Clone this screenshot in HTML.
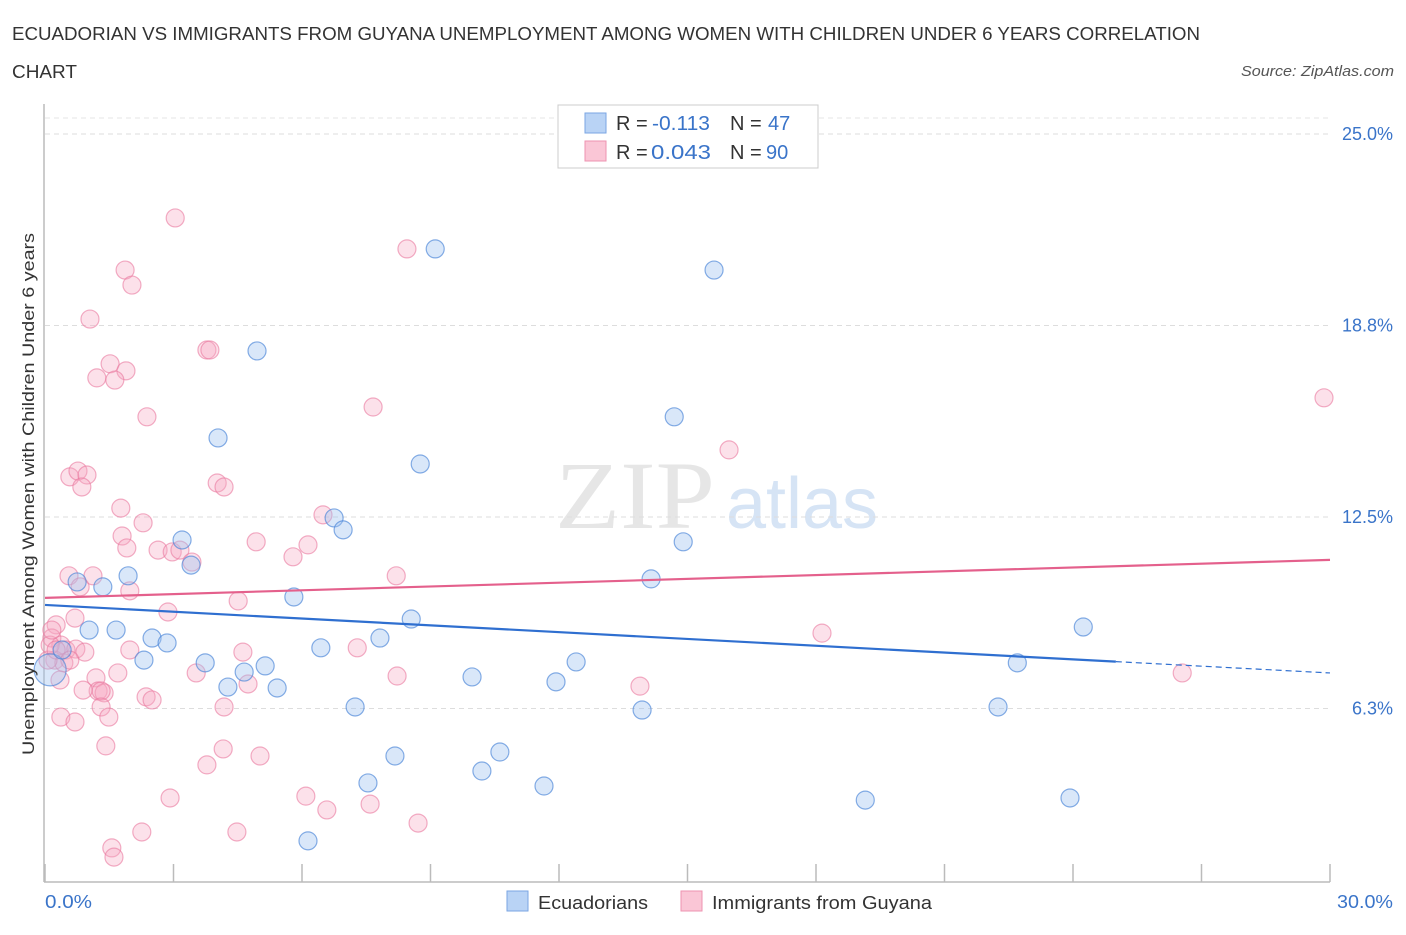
<!DOCTYPE html>
<html><head><meta charset="utf-8"><style>
body{margin:0;background:#fff;font-family:"Liberation Sans",sans-serif}
</style></head><body>
<svg width="1406" height="930" xmlns="http://www.w3.org/2000/svg">
<text x="12" y="40" font-size="18" fill="#333" textLength="1188" lengthAdjust="spacingAndGlyphs">ECUADORIAN VS IMMIGRANTS FROM GUYANA UNEMPLOYMENT AMONG WOMEN WITH CHILDREN UNDER 6 YEARS CORRELATION</text>
<text x="12" y="78" font-size="18" fill="#333" textLength="65" lengthAdjust="spacingAndGlyphs">CHART</text>
<text x="1394" y="76" font-size="15" fill="#555" font-style="italic" text-anchor="end" textLength="153" lengthAdjust="spacingAndGlyphs">Source: ZipAtlas.com</text>
<text x="555" y="528" font-size="96" fill="#e6e6e6" font-family="Liberation Serif" textLength="160" lengthAdjust="spacingAndGlyphs">ZIP</text>
<text x="802" y="528" font-size="72" fill="#d6e4f5" text-anchor="middle">atlas</text>
<g id="grid"></g>
<line x1="44" y1="104" x2="44" y2="882" stroke="#bbb" stroke-width="1.5"/>
<line x1="44" y1="882" x2="1330" y2="882" stroke="#bbb" stroke-width="1.5"/>
<g id="xticks"></g>
<g id="pink"></g><g id="blue"></g><g id="trends"></g>
<text transform="translate(34,755) rotate(-90)" font-size="17" fill="#333" textLength="522" lengthAdjust="spacingAndGlyphs">Unemployment Among Women with Children Under 6 years</text>
<text x="45" y="908" font-size="18" fill="#3a74c9" textLength="47" lengthAdjust="spacingAndGlyphs">0.0%</text>
<text x="1393" y="908" font-size="18" fill="#3a74c9" text-anchor="end" textLength="56" lengthAdjust="spacingAndGlyphs">30.0%</text>
<g>
<rect x="558" y="105" width="260" height="63" fill="#fff" stroke="#ccc"/>
<rect x="585" y="113" width="21" height="20" fill="#b9d3f5" stroke="#7aa6e3"/>
<rect x="585" y="141" width="21" height="20" fill="#fac6d6" stroke="#ee93b0"/>
<text x="616" y="130" font-size="20" fill="#333">R = </text><text x="652" y="130" font-size="20" fill="#3a74c9" textLength="58" lengthAdjust="spacingAndGlyphs">-0.113</text>
<text x="730" y="130" font-size="20" fill="#333">N = </text><text x="768" y="130" font-size="20" fill="#3a74c9">47</text>
<text x="616" y="159" font-size="20" fill="#333">R = </text><text x="651" y="159" font-size="20" fill="#3a74c9" textLength="60" lengthAdjust="spacingAndGlyphs">0.043</text>
<text x="730" y="159" font-size="20" fill="#333">N = </text><text x="766" y="159" font-size="20" fill="#3a74c9">90</text>
</g>
<g><rect x="507" y="891" width="21" height="20" fill="#b9d3f5" stroke="#7aa6e3"/><text x="538" y="909" font-size="18" fill="#333" textLength="110" lengthAdjust="spacingAndGlyphs">Ecuadorians</text></g>
<g><rect x="681" y="891" width="21" height="20" fill="#fac6d6" stroke="#ee93b0"/><text x="712" y="909" font-size="18" fill="#333" textLength="220" lengthAdjust="spacingAndGlyphs">Immigrants from Guyana</text></g>
</svg>
<script>
const yTicks=[6.25,12.5,18.75,25];
const yTickLabels=["6.3%","12.5%","18.8%","25.0%"];
const xTicks=[0,3,6,9,12,15,18,21,24,27,30];
const blueX=[9.11,15.62,4.95,14.69,4.04,8.76,3.20,6.75,6.96,14.90,3.41,1.94,1.35,0.75,5.81,14.15,8.55,24.24,1.03,1.66,2.50,2.85,7.82,6.44,2.31,3.74,5.14,4.65,12.40,22.70,9.97,11.93,4.27,5.42,7.24,13.94,22.25,8.17,10.62,10.20,7.54,11.65,19.15,23.93,6.14,0.12,0.40];
const blueY=[21.25,20.56,17.92,15.77,15.08,14.23,11.75,12.47,12.08,11.69,10.93,10.58,10.22,10.38,9.89,10.48,9.17,8.91,8.81,8.81,8.55,8.39,8.55,8.23,7.83,7.74,7.64,7.44,7.77,7.74,7.28,7.12,6.95,6.92,6.30,6.20,6.30,4.70,4.83,4.21,3.82,3.72,3.26,3.33,1.93,7.51,8.16];
const pinkX=[3.04,8.45,1.87,2.03,1.05,3.78,3.85,1.52,1.89,1.21,1.63,2.38,7.66,29.86,15.97,0.58,0.77,0.98,0.86,4.02,4.18,1.77,2.29,6.49,1.80,1.91,4.93,6.14,2.64,2.97,3.15,5.79,3.43,0.56,1.12,0.82,8.20,1.98,4.51,2.87,0.70,0.26,18.14,0.16,0.37,0.49,0.72,0.93,4.62,7.29,0.23,0.44,1.70,3.53,1.19,8.22,26.55,1.24,1.38,1.31,13.89,4.74,2.36,2.50,1.31,4.18,1.49,0.37,0.70,1.42,4.16,5.02,3.78,6.09,2.92,6.58,7.59,8.71,2.26,4.48,1.56,1.61,0.07,0.12,0.26,0.58,0.35,0.89,1.98,0.16];
const pinkY=[22.26,21.25,20.56,20.07,18.96,17.95,17.95,17.50,17.27,17.04,16.97,15.77,16.09,16.39,14.69,13.81,14.00,13.87,13.48,13.61,13.48,12.79,12.31,12.57,11.88,11.49,11.69,11.59,11.42,11.36,11.42,11.20,11.03,10.58,10.58,10.22,10.58,10.09,9.76,9.40,9.20,8.98,8.71,8.55,8.32,8.16,8.19,8.09,8.09,8.23,7.83,7.74,7.41,7.41,7.25,7.31,7.41,6.82,6.76,6.82,6.98,7.05,6.63,6.53,6.30,6.30,5.97,5.97,5.81,5.03,4.93,4.70,4.41,3.39,3.33,2.94,3.13,2.51,2.22,2.22,1.70,1.40,7.83,8.32,8.16,7.83,7.18,6.85,8.16,8.81];
const blueTrend=[9.63,7.41], blueSolidEnd=25;
const pinkTrend=[9.86,11.10];
const NS="http://www.w3.org/2000/svg";
const sx=v=>45+v*(1285/30), sy=v=>900-v*(191.5/6.25);
function mk(tag,attrs,parent){const e=document.createElementNS(NS,tag);for(const k in attrs)e.setAttribute(k,attrs[k]);parent.appendChild(e);return e;}
const grid=document.getElementById('grid');
yTicks.forEach((t,i)=>{
 const l=mk('line',{x1:45,x2:1330,y1:sy(t),y2:sy(t),stroke:'#ddd','stroke-dasharray':'5,4'},grid);
 
 
 const tx=mk('text',{x:1393,y:sy(t)+6,'font-size':18,fill:'#3a74c9','text-anchor':'end'},grid);
 tx.textContent=yTickLabels[i];
 
 
});
const tl=mk('line',{x1:45,x2:1330,y1:118,y2:118,stroke:'#e4e4e4','stroke-dasharray':'5,4'},grid);


const xt=document.getElementById('xticks');
xTicks.forEach(t=>{const l=mk('line',{x1:sx(t),x2:sx(t),y1:864,y2:882,stroke:'#bbb','stroke-width':1.5},xt);
 
 });
const pg=document.getElementById('pink');
pinkX.forEach((x,i)=>{const c=mk('circle',{cx:sx(x),cy:sy(pinkY[i]),r:9,fill:'rgba(246,170,195,0.35)',stroke:'rgba(234,120,158,0.6)','stroke-width':1.2},pg);
 
 });
const bg=document.getElementById('blue');
blueX.forEach((x,i)=>{const c=mk('circle',{cx:sx(x),cy:sy(blueY[i]),r:i==45?16:9,fill:'rgba(160,195,240,0.4)',stroke:'rgba(70,130,215,0.65)','stroke-width':1.2},bg);
 
 });
const tg=document.getElementById('trends');
const bAt=x=>blueTrend[0]+(blueTrend[1]-blueTrend[0])*x/30;
let l1=mk('line',{x1:sx(0),y1:sy(bAt(0)),x2:sx(blueSolidEnd),y2:sy(bAt(blueSolidEnd)),stroke:'#2f6fd0','stroke-width':2.2},tg);


let l2=mk('line',{x1:sx(blueSolidEnd),y1:sy(bAt(blueSolidEnd)),x2:sx(30),y2:sy(bAt(30)),stroke:'#2f6fd0','stroke-width':1.2,'stroke-dasharray':'6,4'},tg);


let l3=mk('line',{x1:sx(0),y1:sy(pinkTrend[0]),x2:sx(30),y2:sy(pinkTrend[1]),stroke:'#e4608c','stroke-width':2.2},tg);


</script>
</body></html>
